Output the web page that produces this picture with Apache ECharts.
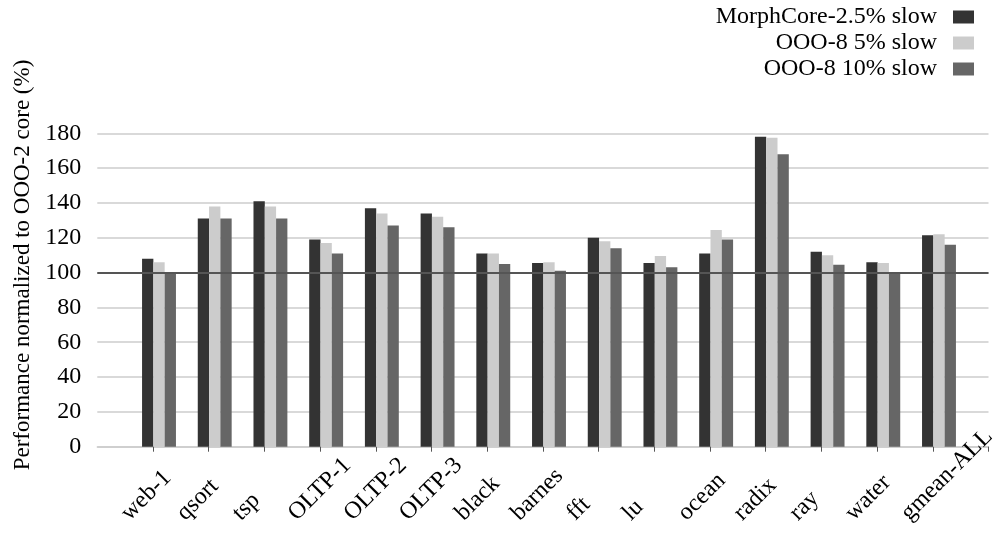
<!DOCTYPE html>
<html>
<head>
<meta charset="utf-8">
<script src="https://cdn.jsdelivr.net/npm/echarts@6/dist/echarts.min.js"></script>
<style>
  html, body { margin: 0; padding: 0; background: #fff; }
  #chart { width: 1002px; height: 535px; }
</style>
</head>
<body>
<div id="chart"></div>
<script>
// Benchmarks on the category axis
const categories = ['web-1', 'qsort', 'tsp', 'OLTP-1', 'OLTP-2', 'OLTP-3', 'black', 'barnes',
  'fft', 'lu', 'ocean', 'radix', 'ray', 'water', 'gmean-ALL'];

// Performance normalized to OOO-2 core (%)
const morphCore25 = [108, 131, 141, 119, 137, 134, 111, 105.5, 120, 105.5, 111, 178, 112, 106, 121.5];
const ooo8slow5 = [106, 138, 138, 117, 134, 132, 111, 106, 118, 109.5, 124.5, 177.5, 110, 105.5, 122];
const ooo8slow10 = [100.3, 131, 131, 111, 127, 126, 105, 101, 114, 103, 119, 168, 104.5, 100.3, 116];

const seriesNames = ['MorphCore-2.5% slow', 'OOO-8 5% slow', 'OOO-8 10% slow'];
const yTicks = [0, 20, 40, 60, 80, 100, 120, 140, 160, 180];

const FONT = '"Liberation Serif", "Times New Roman", serif';
const colors = ['#333333', '#cccccc', '#666666'];

const chart = echarts.init(document.getElementById('chart'));

// Label axis has one trailing empty slot; the bar axis sits offset inside it.
const labelAxisData = categories.concat(['']);

const option = {
  animation: false,
  backgroundColor: '#ffffff',
  textStyle: { fontFamily: FONT, color: '#000' },
  legend: {
    data: seriesNames,
    orient: 'vertical',
    align: 'right',
    right: 28,
    top: 5,
    padding: 0,
    itemWidth: 21,
    itemHeight: 13,
    itemGap: 2,
    icon: 'rect',
    textStyle: { fontFamily: FONT, fontSize: 24, color: '#000', lineHeight: 24, padding: [0, 11, 0, 0] }
  },
  grid: [
    { left: 97.3, right: 13.5, top: 133.3, bottom: 88.3, containLabel: false, outerBoundsMode: 'none' },
    { left: 131.15, width: 835.7, top: 133.3, bottom: 88.3, containLabel: false, outerBoundsMode: 'none' }
  ],
  xAxis: [
    {
      type: 'category',
      gridIndex: 0,
      data: labelAxisData,
      boundaryGap: true,
      axisLine: { show: true, lineStyle: { color: '#cccccc', width: 1.5 } },
      axisTick: {
        show: true, length: 5, lineStyle: { color: '#555555', width: 1 },
        interval: function (index) { return index !== 0; }
      },
      axisLabel: {
        interval: 0,
        rotate: 45,
        align: 'left',
        verticalAlign: 'middle',
        margin: 70,
        fontFamily: FONT,
        fontSize: 24,
        color: '#000'
      }
    },
    {
      type: 'category',
      gridIndex: 1,
      data: categories,
      show: false
    }
  ],
  yAxis: [
    {
      type: 'value',
      gridIndex: 0,
      min: yTicks[0],
      max: yTicks[yTicks.length - 1],
      interval: 20,
      name: 'Performance normalized to OOO-2 core (%)',
      nameLocation: 'middle',
      nameGap: 54,
      nameTextStyle: { fontFamily: FONT, fontSize: 23, color: '#000', padding: [0, 0, 0, 50] },
      axisLine: { show: false },
      axisTick: { show: false },
      axisLabel: { margin: 16, fontFamily: FONT, fontSize: 24, color: '#000' },
      splitLine: { show: true, lineStyle: { color: '#cccccc', width: 1.5 } }
    },
    {
      type: 'value',
      gridIndex: 1,
      min: yTicks[0],
      max: yTicks[yTicks.length - 1],
      show: false,
      splitLine: { show: false }
    }
  ],
  series: [
    {
      // reference line at 100 %
      type: 'line',
      xAxisIndex: 0,
      yAxisIndex: 0,
      data: [],
      silent: true,
      z: 1,
      markLine: {
        silent: true,
        symbol: 'none',
        label: { show: false },
        lineStyle: { color: '#555555', width: 2, type: 'solid' },
        data: [{ yAxis: 100 }]
      }
    },
    {
      name: seriesNames[0], type: 'bar', xAxisIndex: 1, yAxisIndex: 1,
      data: morphCore25, barWidth: 11.3, barGap: '0%', z: 3,
      itemStyle: { color: colors[0] }
    },
    {
      name: seriesNames[1], type: 'bar', xAxisIndex: 1, yAxisIndex: 1,
      data: ooo8slow5, barWidth: 11.3, barGap: '0%', z: 3,
      itemStyle: { color: colors[1] }
    },
    {
      name: seriesNames[2], type: 'bar', xAxisIndex: 1, yAxisIndex: 1,
      data: ooo8slow10, barWidth: 11.3, barGap: '0%', z: 3,
      itemStyle: { color: colors[2] }
    }
  ]
};

chart.setOption(option);
</script>
</body>
</html>
